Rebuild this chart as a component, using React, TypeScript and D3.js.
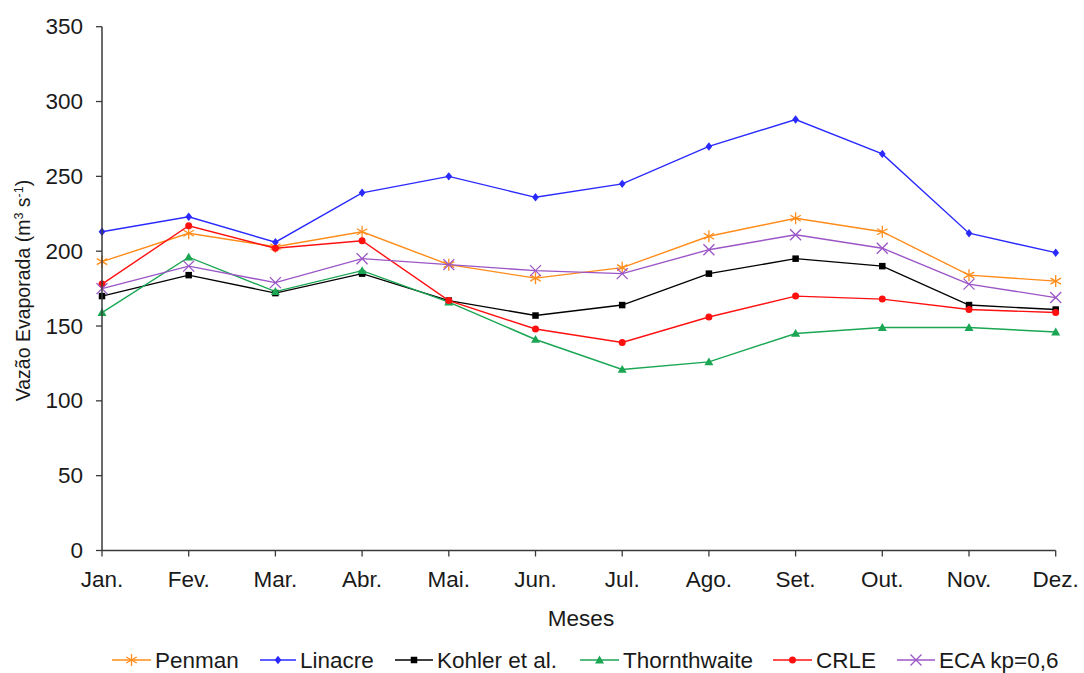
import React from "react";
import * as d3 from "d3";

const months = ["Jan.", "Fev.", "Mar.", "Abr.", "Mai.", "Jun.", "Jul.", "Ago.", "Set.", "Out.", "Nov.", "Dez."];
const yTicks = [0, 50, 100, 150, 200, 250, 300, 350];

const penman = [193, 212, 203, 213, 191, 182, 189, 210, 222, 213, 184, 180];
const linacre = [213, 223, 206, 239, 250, 236, 245, 270, 288, 265, 212, 199];
const kohler = [170, 184, 172, 185, 167, 157, 164, 185, 195, 190, 164, 161];
const thornthwaite = [159, 196, 173, 187, 166, 141, 121, 126, 145, 149, 149, 146];
const crle = [178, 217, 202, 207, 167, 148, 139, 156, 170, 168, 161, 159];
const eca = [175, 190, 179, 195, 191, 187, 185, 201, 211, 202, 178, 169];

const seriesNames = ["Penman", "Linacre", "Kohler et al.", "Thornthwaite", "CRLE", "ECA kp=0,6"];
const seriesData = [penman, linacre, kohler, thornthwaite, crle, eca];
const seriesColors = ["#ff8c1a", "#2a2aff", "#000000", "#1aa653", "#ff1010", "#9b55c6"];
const seriesMarkers = ["asterisk", "diamond", "square", "triangle", "circle", "cross"];

const FONT = "'Liberation Sans', Arial, sans-serif";

function Marker({ type, x, y, color }: { type: string; x: number; y: number; color: string }) {
  switch (type) {
    case "asterisk": {
      const r = 6;
      return (
        <g stroke={color} strokeWidth={1.3}>
          <line x1={x} y1={y - r} x2={x} y2={y + r} />
          <line x1={x - r * 0.87} y1={y - r * 0.5} x2={x + r * 0.87} y2={y + r * 0.5} />
          <line x1={x - r * 0.87} y1={y + r * 0.5} x2={x + r * 0.87} y2={y - r * 0.5} />
        </g>
      );
    }
    case "diamond": {
      const r = 4.2;
      return <path d={`M${x},${y - r}L${x + r * 0.8},${y}L${x},${y + r}L${x - r * 0.8},${y}Z`} fill={color} />;
    }
    case "square": {
      const s = 6.5;
      return <rect x={x - s / 2} y={y - s / 2} width={s} height={s} fill={color} />;
    }
    case "triangle": {
      const r = 4.5;
      return <path d={`M${x},${y - r}L${x + r},${y + r * 0.75}L${x - r},${y + r * 0.75}Z`} fill={color} />;
    }
    case "circle":
      return <circle cx={x} cy={y} r={3.5} fill={color} />;
    case "cross": {
      const r = 5.5;
      return (
        <g stroke={color} strokeWidth={1.3}>
          <line x1={x - r} y1={y - r} x2={x + r} y2={y + r} />
          <line x1={x - r} y1={y + r} x2={x + r} y2={y - r} />
        </g>
      );
    }
  }
  return null;
}

export default function App() {
  const W = 1084;
  const H = 673;
  const x0 = 102;
  const x1 = 1055.7;
  const yTop = 26.7;
  const yBot = 550.5;
  const FS = 22.5;

  const x = d3.scalePoint<string>().domain(months).range([x0, x1]);
  const y = d3.scaleLinear().domain([0, 350]).range([yBot, yTop]);
  const line = d3
    .line<number>()
    .x((_, i) => x(months[i]) as number)
    .y((d) => y(d));

  const axisColor = "#3a3a3a";

  const legendItems = [
    { lx: 112, tx: 155 },
    { lx: 260, tx: 300 },
    { lx: 395, tx: 437 },
    { lx: 580, tx: 623 },
    { lx: 773, tx: 816 },
    { lx: 897, tx: 939 },
  ];
  const legendY = 660;

  return (
    <svg
      width={W}
      height={H}
      style={{ position: "absolute", left: 0, top: 0, background: "#fff" }}
      fontFamily={FONT}
    >
      <rect x={0} y={0} width={W} height={H} fill="#fff" />
      {seriesData.map((data, si) => (
        <g key={si}>
          <path d={line(data) || ""} fill="none" stroke={seriesColors[si]} strokeWidth={1.4} />
          {data.map((v, i) => (
            <Marker key={i} type={seriesMarkers[si]} x={x(months[i]) as number} y={y(v)} color={seriesColors[si]} />
          ))}
        </g>
      ))}
      <line x1={x0} y1={yTop} x2={x0} y2={yBot} stroke={axisColor} strokeWidth={1.5} />
      {yTicks.map((t) => (
        <g key={t}>
          <line x1={x0 - 6} y1={y(t)} x2={x0} y2={y(t)} stroke={axisColor} strokeWidth={1.3} />
          <text x={x0 - 19} y={y(t)} textAnchor="end" dominantBaseline="central" fontSize={FS} fill="#1a1a1a">
            {t}
          </text>
        </g>
      ))}
      <line x1={x0} y1={yBot} x2={x1} y2={yBot} stroke={axisColor} strokeWidth={1.5} />
      {months.map((m) => (
        <g key={m}>
          <line x1={x(m)} y1={yBot} x2={x(m)} y2={yBot + 6} stroke={axisColor} strokeWidth={1.3} />
          <text x={x(m)} y={yBot + 36} textAnchor="middle" fontSize={FS} fill="#1a1a1a">
            {m}
          </text>
        </g>
      ))}
      <text
        transform={`translate(30, ${(yTop + yBot) / 2 + 2}) rotate(-90)`}
        textAnchor="middle"
        fontSize={19.5}
        fill="#1a1a1a"
      >
        Vazão Evaporada (m<tspan dy={-7} fontSize={12.5}>3</tspan>
        <tspan dy={7}> s</tspan>
        <tspan dy={-7} fontSize={12.5}>-1</tspan>
        <tspan dy={7}>)</tspan>
      </text>
      <text x={581} y={626} textAnchor="middle" fontSize={FS} fill="#1a1a1a">
        Meses
      </text>
      {seriesNames.map((name, si) => {
        const it = legendItems[si];
        const lx2 = it.tx - 4;
        return (
          <g key={name}>
            <line x1={it.lx} y1={legendY} x2={lx2} y2={legendY} stroke={seriesColors[si]} strokeWidth={1.4} />
            <Marker type={seriesMarkers[si]} x={(it.lx + lx2) / 2} y={legendY} color={seriesColors[si]} />
            <text x={it.tx} y={legendY} dominantBaseline="central" fontSize={FS} fill="#1a1a1a">
              {name}
            </text>
          </g>
        );
      })}
    </svg>
  );
}
